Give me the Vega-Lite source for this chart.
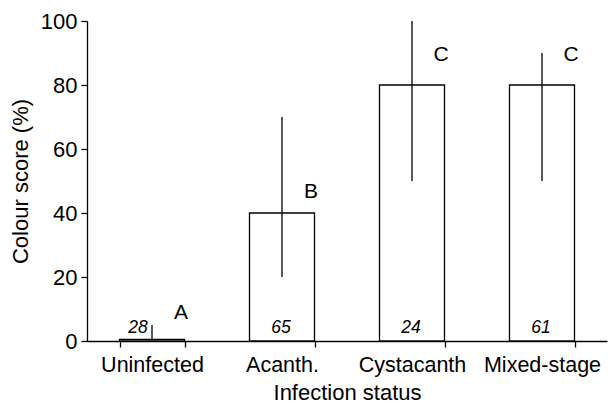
{
  "$schema": "https://vega.github.io/schema/vega-lite/v6.json",
  "width": 520,
  "height": 320,
  "autosize": {"type": "none"},
  "padding": {"left": 87, "top": 21, "right": 2, "bottom": 64},
  "background": "white",
  "config": {
    "font": "Liberation Sans",
    "view": {"stroke": null},
    "axis": {
      "domainColor": "black",
      "domainWidth": 1.3,
      "tickColor": "black",
      "tickWidth": 1.3,
      "tickSize": 6,
      "labelColor": "black",
      "titleColor": "black",
      "grid": false,
      "labelFont": "Liberation Sans",
      "titleFont": "Liberation Sans",
      "labelFontSize": 21.5,
      "titleFontSize": 22,
      "titleFontWeight": "normal"
    }
  },
  "data": {
    "values": [
      {"status": "Uninfected", "score": 0.5, "lo": 0, "hi": 5, "letter": "A", "ly": 8.6, "n": "28"},
      {"status": "Acanth.", "score": 40, "lo": 20, "hi": 70, "letter": "B", "ly": 46.7, "n": "65"},
      {"status": "Cystacanth", "score": 80, "lo": 50, "hi": 100, "letter": "C", "ly": 89.5, "n": "24"},
      {"status": "Mixed-stage", "score": 80, "lo": 50, "hi": 90, "letter": "C", "ly": 89.5, "n": "61"}
    ]
  },
  "encoding": {
    "x": {
      "field": "status",
      "type": "nominal",
      "sort": null,
      "scale": {"paddingInner": 0.5, "paddingOuter": 0.25},
      "axis": {
        "title": "Infection status",
        "labelAngle": 0,
        "tickBand": "extent",
        "labelPadding": 7,
        "titlePadding": 7
      }
    }
  },
  "layer": [
    {
      "mark": {"type": "bar", "fill": "white", "stroke": "black", "strokeWidth": 1.3},
      "encoding": {
        "y": {
          "field": "score",
          "type": "quantitative",
          "scale": {"domain": [0, 100], "nice": false},
          "axis": {
            "title": "Colour score (%)",
            "values": [0, 20, 40, 60, 80, 100],
            "labelFontSize": 22,
            "labelPadding": 4,
            "titlePadding": 8
          }
        }
      }
    },
    {
      "mark": {"type": "rule", "color": "black", "strokeWidth": 1.3},
      "encoding": {
        "y": {"field": "lo", "type": "quantitative"},
        "y2": {"field": "hi"}
      }
    },
    {
      "mark": {"type": "text", "fontSize": 21, "dx": 29, "baseline": "middle", "color": "black"},
      "encoding": {
        "y": {"field": "ly", "type": "quantitative"},
        "text": {"field": "letter"}
      }
    },
    {
      "transform": [{"filter": "datum.status === 'Uninfected'"}],
      "mark": {"type": "text", "fontSize": 17.5, "fontStyle": "italic", "dx": -14, "baseline": "middle", "color": "black"},
      "encoding": {
        "y": {"datum": 4, "type": "quantitative"},
        "text": {"field": "n"}
      }
    },
    {
      "transform": [{"filter": "datum.status !== 'Uninfected'"}],
      "mark": {"type": "text", "fontSize": 17.5, "fontStyle": "italic", "dx": -1, "baseline": "middle", "color": "black"},
      "encoding": {
        "y": {"datum": 4, "type": "quantitative"},
        "text": {"field": "n"}
      }
    }
  ]
}
